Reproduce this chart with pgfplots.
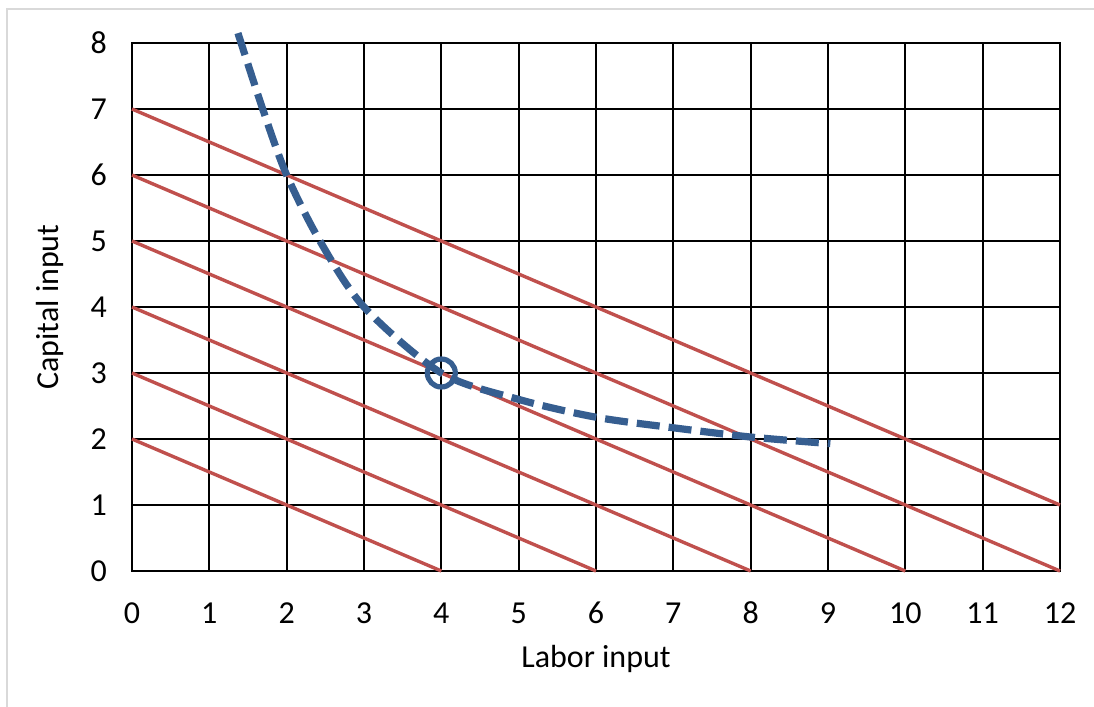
\documentclass[border=0pt]{standalone}
\usepackage{fontspec}
\setmainfont{Carlito}
\usepackage{pgfplots}
\pgfplotsset{compat=1.18}
\definecolor{isored}{RGB}{192,80,77}
\definecolor{isoblue}{RGB}{54,94,144}
\definecolor{frame}{RGB}{217,217,217}

\begin{document}
\begin{tikzpicture}
\begin{axis}[at={(0,0)}, anchor=south west, scale only axis,
    width=464pt, height=264pt,
    xmin=0, xmax=12, ymin=0, ymax=8,
    xtick={0,...,12}, ytick={0,...,8},
    grid=major, grid style={black, line width=1pt},
    axis line style={black, line width=1pt},
    major tick length=0pt,
    /pgf/number format/assume math mode=true,
    tick label style={font=\fontsize{16}{18}\selectfont},
    xticklabel style={text height=1.4ex, text depth=0pt, yshift=-16pt},
    yticklabel style={xshift=-9pt},
    clip=false,
]
% isocost lines
\addplot[isored, line width=1.7pt] coordinates {(0,7) (12,1)};
\addplot[isored, line width=1.7pt] coordinates {(0,6) (12,0)};
\addplot[isored, line width=1.7pt] coordinates {(0,5) (10,0)};
\addplot[isored, line width=1.7pt] coordinates {(0,4) (8,0)};
\addplot[isored, line width=1.7pt] coordinates {(0,3) (6,0)};
\addplot[isored, line width=1.7pt] coordinates {(0,2) (4,0)};
% isoquant
\addplot[isoblue, line width=3.6pt, smooth, tension=0.5, dash pattern=on 11.5pt off 4.5pt] coordinates {
(1.37,8.15) (1.69,7) (2,6) (2.43,5) (3,4) (4,3) (5,2.6) (6,2.33) (7,2.17) (8,2.03) (9.03,1.93)
};
\addplot[isoblue, only marks, mark=o, mark size=7pt, mark options={line width=2.6pt, solid}] coordinates {(4,3)};
\end{axis}
\node[font=\fontsize{16}{18}\selectfont] at (232pt,-44pt) {Labor input};
\node[font=\fontsize{16}{18}\selectfont, rotate=90] at (-41pt,132pt) {Capital input};
\draw[frame, line width=1pt] (-62.5pt,-70pt) -- (-62.5pt,281pt) -- (485pt,281pt);
\pgfresetboundingbox
\useasboundingbox (-66pt,-68pt) rectangle (481pt,285.5pt);
\end{tikzpicture}
\end{document}
